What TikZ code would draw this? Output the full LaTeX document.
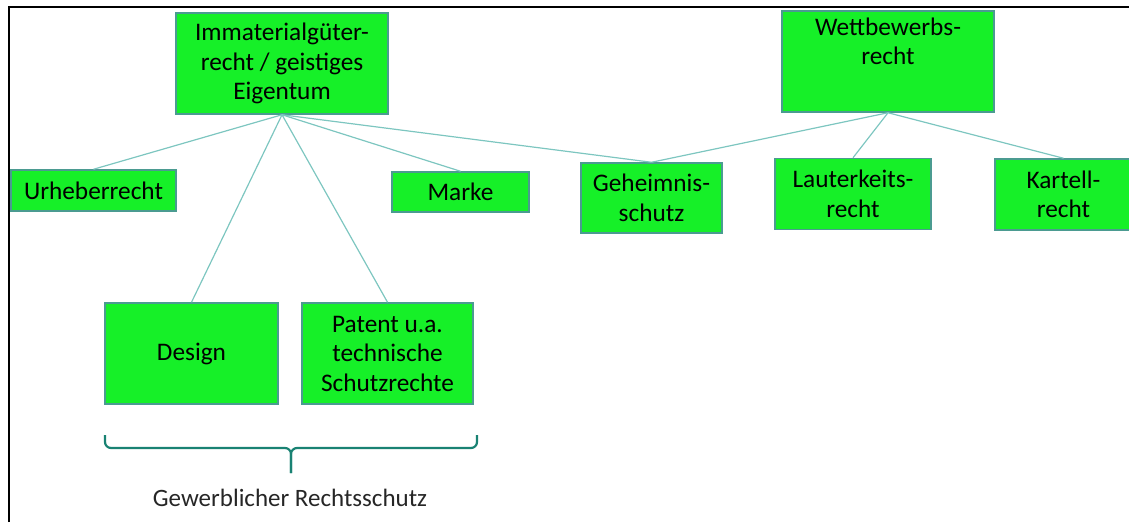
\documentclass[tikz,border=0pt]{standalone}
\usepackage{fontspec}
\setmainfont{Carlito}
\usepackage{xcolor}
\usetikzlibrary{positioning,calc}

\definecolor{boxgreen}{RGB}{22,240,40}
\definecolor{boxedge}{RGB}{75,155,145}
\definecolor{linkteal}{RGB}{125,198,192}
\definecolor{braceteal}{RGB}{25,130,115}

\tikzset{
  lawbox/.style={draw=boxedge, line width=1.5pt, fill=boxgreen, align=center, inner sep=0pt,
                 font=\fontsize{25.3}{29.5}\selectfont},
  link/.style={draw=linkteal, line width=1.2pt},
  bracket/.style={draw=braceteal, line width=2.2pt, rounded corners=6pt},
}

\begin{document}
\begin{tikzpicture}[x=1pt, y=-1pt]
    \useasboundingbox (0,0) rectangle (1129,522);
    % Frame (top and left only)
    \draw[line width=2pt] (9,522) -- (9,7) -- (1129,7);

    % Top level
    \node[lawbox, minimum width=212pt, minimum height=101pt] (imm) at (282,63.5) {Immaterialgüter-\\recht / geistiges\\Eigentum};
    \node[lawbox, minimum width=212pt, minimum height=101pt] (wett) at (888,61.5) {Wettbewerbs-\\recht\\[2pt]\strut};

    % Second level
    \node[lawbox, minimum width=165pt, minimum height=41pt] (urh) at (93.5,190.5) {Urheberrecht};
    \node[lawbox, minimum width=137pt, minimum height=40pt] (marke) at (460.5,192) {Marke};
    \node[lawbox, minimum width=141pt, minimum height=70pt] (geh) at (651.5,198) {Geheimnis-\\schutz};
    \node[lawbox, minimum width=156pt, minimum height=71pt] (laut) at (853,194) {Lauterkeits-\\recht};
    \node[lawbox, minimum width=137pt, minimum height=71pt] (kart) at (1063.5,194.5) {Kartell-\\recht};

    % Industrial property
    \node[lawbox, minimum width=173pt, minimum height=101pt] (design) at (191.5,353.5) {Design};
    \node[lawbox, minimum width=171pt, minimum height=101pt] (patent) at (387.5,353.5) {Patent u.a.\\technische\\Schutzrechte};

    % Links
    \foreach \child in {urh,marke,geh,design,patent} {
        \draw[link] (imm.south) -- (\child.north);
    }
    \foreach \child in {geh,laut,kart} {
        \draw[link] (wett.south) -- (\child.north);
    }

    % Brace
    \coordinate (gbl) at (105,435);
    \coordinate (gbr) at (477,435);
    \coordinate (gbm) at (291,473);
    \draw[bracket] (gbl) |- (291,448) -- (gbm);
    \draw[bracket] (gbr) |- (291,448) -- (gbm);
    \node[font=\fontsize{25}{29.5}\selectfont, text=black!85] (gewerb) at (290,498) {Gewerblicher Rechtsschutz};
\end{tikzpicture}
\end{document}
